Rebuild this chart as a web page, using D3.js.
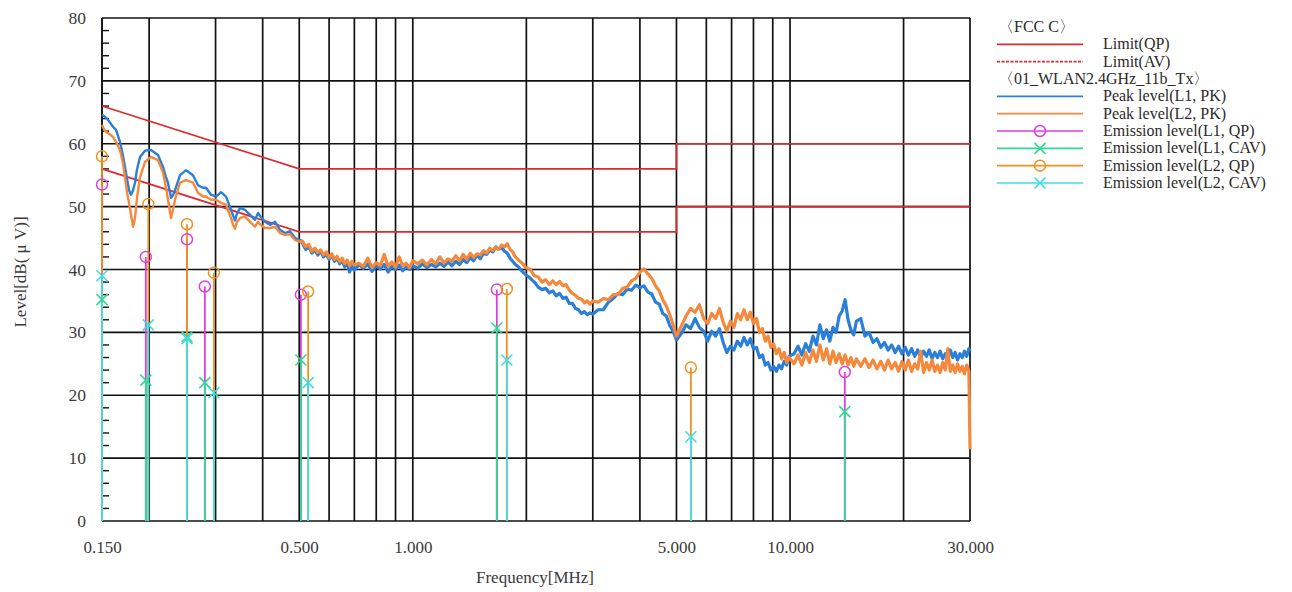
<!DOCTYPE html>
<html><head><meta charset="utf-8">
<script src="https://cdn.jsdelivr.net/npm/d3@7"></script>
<style>body{margin:0;background:#fff}</style>
</head><body>
<svg id="c" width="1292" height="592"></svg>
<script>
// ---------- data ----------
const yTickValues = [0,10,20,30,40,50,60,70,80];
const yMinorTicks = [2,4,6,8,12,14,16,18,22,24,26,28,32,34,36,38,42,44,46,48,52,54,56,58,62,64,66,68,72,74,76,78];
const xTickValues = [0.15,0.5,1,5,10,30];
const xTickLabels = ["0.150","0.500","1.000","5.000","10.000","30.000"];
const xGridValues = [0.2,0.3,0.4,0.5,0.6,0.7,0.8,0.9,1,2,3,4,5,6,7,8,9,10,20,30];

const limitFreq = [0.15,0.5,5,5,30];
const limitQP   = [66,56,56,60,60];
const limitAV   = [56,46,46,50,50];

const peakFreq = [
0.150,0.1528,0.1556,0.1604,0.1634,0.1674,0.1705,0.1726,0.1748,0.1769,0.1791,0.1813,0.1835,0.1857,0.1892,0.1950,0.2023,0.2111,0.2177,0.2217,0.2244,0.2271,0.2286,0.2313,0.2342,0.2415,0.2505,0.2614,0.2695,0.2779,0.2830,0.2918,0.3009,0.3102,0.3198,0.3297,0.3338,0.3379,0.3420,0.3484,0.3591,0.3702,0.3817,0.3888,0.3936,0.4058,0.4183,0.4313,0.4446,0.4584,0.4726,0.4872,0.5023,
0.51,0.52,0.53,0.54,0.55,0.56,0.57,0.58,0.59,0.60,0.61,0.62,0.63,0.64,0.65,0.66,0.67,0.68,0.69,0.70,
0.72,0.74,0.76,0.78,0.80,0.82,0.84,0.86,0.88,0.90,0.92,0.94,0.96,0.98,1.00,
1.03,1.06,1.09,1.12,1.15,1.18,1.21,1.24,1.27,1.30,1.33,1.36,1.39,1.42,1.45,1.48,1.51,1.54,1.57,1.60,1.63,1.66,1.69,1.72,1.75,1.78,1.81,1.84,1.87,1.90,1.93,1.96,1.99,
2.05,2.10,2.15,2.20,2.25,2.30,2.35,2.40,2.45,2.50,2.55,2.60,2.65,2.70,2.75,2.80,2.85,2.90,2.95,3.00,
3.1,3.2,3.3,3.4,3.5,3.6,3.7,3.8,3.9,4.0,4.1,4.2,4.3,4.4,4.5,4.6,4.7,4.8,4.9,5.0,
5.15,5.30,5.45,5.60,5.75,5.90,6.05,6.20,6.35,6.50,6.65,6.80,6.95,7.10,7.25,7.40,7.55,7.70,7.85,8.00,8.15,8.30,8.45,8.60,8.75,8.90,9.05,9.20,9.35,9.50,9.65,9.80,9.95,
10.25,10.50,10.75,11.00,11.25,11.50,11.75,12.00,12.25,12.50,12.75,13.00,13.25,13.50,13.75,14.00,14.25,14.50,14.75,15.00,
15.4,15.8,16.2,16.6,17.0,17.4,17.8,18.2,18.6,19.0,19.4,19.8,20.2,20.6,21.0,21.4,21.8,22.2,22.6,23.0,23.4,23.8,24.2,24.6,25.0,25.4,25.8,26.2,26.6,27.0,27.4,27.8,28.2,28.6,29.0,29.4,29.8,30.0
];
const peakL1 = [
64.6,64.3,63.8,62.7,62.2,60.3,58.1,56.3,54.4,52.6,51.9,52.6,53.8,55.9,57.9,58.9,59.0,58.2,56.3,54.7,53.8,52.3,51.4,51.8,52.6,55.0,55.8,55.0,53.4,53.0,53.0,51.9,51.6,52.3,51.6,49.5,48.6,47.8,48.9,49.8,49.5,48.7,47.9,49.0,48.5,47.6,47.1,47.6,46.3,45.8,46.1,45.0,44.7,
44.2,43.2,43.6,42.6,43.1,42.3,42.9,42.0,42.4,41.6,42.2,41.3,41.8,40.9,41.4,40.4,41.2,39.6,40.6,39.9,
40.8,40.2,40.9,39.7,40.6,40.1,40.8,39.6,40.5,40.0,40.7,39.8,40.4,40.0,40.6,
40.2,40.9,40.3,40.8,40.4,41.0,40.5,41.2,40.6,41.3,40.8,41.6,41.1,41.9,41.4,42.3,41.7,42.6,42.4,43.1,42.8,43.6,43.2,43.5,42.9,42.6,41.8,41.3,40.8,40.5,40.0,39.6,39.2,
38.6,38.0,37.2,36.8,37.0,36.3,36.6,35.8,36.2,35.4,35.6,34.6,34.6,33.8,33.6,33.0,33.3,32.8,33.1,32.9,
33.6,33.6,34.8,35.4,36.2,36.0,36.9,36.7,37.5,37.1,37.4,36.4,36.1,34.8,34.5,33.0,32.6,31.1,30.2,28.8,
29.8,31.2,30.6,32.2,30.8,30.2,28.6,30.2,29.4,30.6,28.4,26.8,27.8,27.2,28.6,27.8,29.2,28.0,29.0,27.4,27.6,26.0,26.4,24.8,25.2,24.0,24.6,23.8,24.8,24.2,25.4,24.8,26.2,
26.6,27.8,26.4,28.2,27.0,29.4,28.0,31.2,29.0,30.4,28.6,30.8,30.0,32.6,33.4,35.2,32.0,30.4,29.6,31.8,
32.2,29.4,30.0,28.4,29.0,27.6,28.4,27.2,28.0,26.8,27.8,26.6,27.6,26.4,27.4,26.2,27.2,26.0,27.0,26.2,27.2,25.8,26.8,26.0,27.0,25.8,26.6,26.0,27.2,26.0,26.8,25.6,26.6,26.0,27.0,26.2,27.4,27.0
];
const peakL2 = [
63.0,62.0,61.7,61.1,60.3,59.0,56.9,54.7,52.3,50.6,48.7,46.8,48.2,51.4,54.7,57.1,57.9,57.4,55.4,53.1,51.1,49.2,48.2,49.5,51.1,53.8,54.2,53.8,52.2,51.6,51.6,51.1,51.1,50.6,50.3,48.2,47.1,46.5,47.6,48.2,48.4,47.6,46.8,47.6,47.2,46.6,46.6,46.8,45.8,45.5,45.6,44.7,44.4,
44.5,43.6,44.0,42.9,43.4,42.7,43.1,42.3,42.8,41.9,42.5,41.6,42.1,41.2,41.8,40.9,41.5,40.6,41.3,40.7,
41.0,40.5,41.8,40.3,41.1,40.6,42.4,40.5,41.2,40.4,42.0,40.6,41.0,40.3,41.4,
40.9,41.5,40.7,41.6,40.9,42.0,41.0,41.7,41.3,42.2,41.4,42.4,41.6,42.6,41.9,42.5,42.3,43.0,42.6,43.4,43.0,43.5,43.2,43.9,43.6,44.1,43.2,42.8,42.0,41.6,41.2,40.9,40.3,
40.0,39.0,38.8,38.0,38.4,37.6,38.2,37.6,38.1,37.4,37.6,36.7,36.2,35.9,35.4,35.3,34.7,35.0,34.5,35.0,
34.8,35.4,35.2,36.0,36.0,37.0,37.2,38.2,38.6,39.6,40.1,39.3,38.6,37.4,36.6,35.2,34.2,32.8,31.2,29.4,
31.0,32.6,33.8,33.2,34.4,32.2,31.4,33.0,32.2,33.8,31.6,30.2,31.8,30.8,33.0,32.0,33.6,32.0,33.2,31.4,32.2,30.0,30.6,28.6,29.4,27.6,28.2,26.6,27.4,25.8,26.8,25.2,26.0,
25.0,26.4,24.8,26.8,25.2,27.2,25.4,28.0,25.6,27.4,25.0,27.0,25.2,26.6,25.0,26.4,24.8,26.0,24.6,25.8,
24.6,25.8,24.4,25.6,24.2,25.4,24.0,25.6,24.2,25.2,23.8,25.4,24.0,25.6,23.8,25.0,24.2,27.0,23.6,25.2,24.0,25.6,23.8,24.8,23.6,25.2,24.0,27.4,23.8,24.8,23.6,25.0,23.8,24.6,23.4,24.8,23.8,11.4
];

// emission (final measurement) points
const emL1Freq = [0.150,0.196,0.252,0.281,0.505,1.67,13.97];
const emL1QP   = [53.5,42.0,44.8,37.3,36.0,36.8,23.7];
const emL1CAV  = [35.2,22.4,29.3,22.0,25.6,30.7,17.4];
const emL2Freq = [0.150,0.199,0.252,0.297,0.528,1.775,5.46];
const emL2QP   = [58.0,50.4,47.2,39.5,36.5,36.9,24.4];
const emL2CAV  = [39.0,31.2,29.0,20.4,22.0,25.6,13.4];

const legendItems = [
  {type:"head", text:"〈FCC C〉"},
  {type:"line", text:"Limit(QP)", color:"#dd2b2b"},
  {type:"dash", text:"Limit(AV)", color:"#dd2b2b"},
  {type:"head", text:"〈01_WLAN2.4GHz_11b_Tx〉"},
  {type:"line", text:"Peak level(L1, PK)", color:"#2a7fd8"},
  {type:"line", text:"Peak level(L2, PK)", color:"#f5883a"},
  {type:"circle", text:"Emission level(L1, QP)", color:"#dd3fdd"},
  {type:"cross", text:"Emission level(L1, CAV)", color:"#30d890"},
  {type:"circle", text:"Emission level(L2, QP)", color:"#f0921e"},
  {type:"cross", text:"Emission level(L2, CAV)", color:"#3edde6"}
];

// ---------- drawing ----------
const svg = d3.select("#c");
const L=102, R=970, T=18, B=521;
const x = d3.scaleLog().domain([0.15,30]).range([L,R]);
const y = d3.scaleLinear().domain([0,80]).range([B,T]);
const FONT = "'Liberation Serif','DejaVu Serif',serif";

const g = svg.append("g");
g.selectAll(".hg").data(yTickValues).join("line")
  .attr("x1",L).attr("x2",R).attr("y1",d=>y(d)).attr("y2",d=>y(d))
  .attr("stroke","#111").attr("stroke-width",1.7);
g.selectAll(".vg").data(xGridValues).join("line")
  .attr("x1",d=>x(d)).attr("x2",d=>x(d)).attr("y1",T).attr("y2",B)
  .attr("stroke","#111").attr("stroke-width",1.7);
g.append("line").attr("x1",L).attr("x2",L).attr("y1",T).attr("y2",B).attr("stroke","#111").attr("stroke-width",1.9);
g.selectAll(".mt").data(yMinorTicks).join("line")
  .attr("x1",L).attr("x2",L+7).attr("y1",d=>y(d)).attr("y2",d=>y(d))
  .attr("stroke","#111").attr("stroke-width",1.4);

const yAxis = d3.axisLeft(y).tickValues(yTickValues).tickSize(0).tickPadding(16).tickFormat(d3.format("d"));
const ya = svg.append("g").attr("transform",`translate(${L},0)`).call(yAxis);
ya.select(".domain").remove();
ya.selectAll("text").attr("font-family",FONT).attr("font-size",17.5).attr("fill","#3a3a3a");

const xAxis = d3.axisBottom(x).tickValues(xTickValues).tickSize(0).tickPadding(20)
  .tickFormat((d,i)=>xTickLabels[i]);
const xa = svg.append("g").attr("transform",`translate(0,${B})`).call(xAxis);
xa.select(".domain").remove();
xa.selectAll("text").attr("font-family",FONT).attr("font-size",17).attr("fill","#3a3a3a");

svg.append("text").attr("x",535).attr("y",583).attr("text-anchor","middle")
  .attr("font-family",FONT).attr("font-size",17).attr("fill","#3a3a3a").text("Frequency[MHz]");
svg.append("text").attr("transform","translate(26,272) rotate(-90)").attr("text-anchor","middle")
  .attr("font-family",FONT).attr("font-size",17).attr("fill","#3a3a3a").text("Level[dB( μ V)]");

const limLine = d3.line().x(d=>x(d[0])).y(d=>y(d[1]));
svg.append("path").attr("d",limLine(d3.zip(limitFreq,limitQP))).attr("fill","none")
  .attr("stroke","#dd2b2b").attr("stroke-width",1.7);
svg.append("path").attr("d",limLine(d3.zip(limitFreq,limitAV))).attr("fill","none")
  .attr("stroke","#dd2b2b").attr("stroke-width",1.7);

// peak traces: smooth low-frequency part drawn thinner, noisy part thicker
const tr = d3.line().x(d=>x(d[0])).y(d=>y(d[1]));
function trace(vals, color){
  const pts = d3.zip(peakFreq, vals);
  const lo = pts.filter(d=>d[0]<=0.52), hi = pts.filter(d=>d[0]>=0.5);
  svg.append("path").attr("d",tr(lo)).attr("fill","none").attr("stroke",color)
    .attr("stroke-width",2.4).attr("stroke-linejoin","round");
  svg.append("path").attr("d",tr(hi)).attr("fill","none").attr("stroke",color)
    .attr("stroke-width",3.2).attr("stroke-linejoin","round");
}
trace(peakL1, "#2a7fd8");
trace(peakL2, "#f5883a");

function stems(freqs, vals, color){
  svg.append("g").selectAll("line").data(d3.zip(freqs,vals)).join("line")
    .attr("x1",d=>x(d[0])).attr("x2",d=>x(d[0])).attr("y1",d=>y(d[1])).attr("y2",y(0))
    .attr("stroke",color).attr("stroke-width",1.8);
}
function circles(freqs, vals, color){
  svg.append("g").selectAll("circle").data(d3.zip(freqs,vals)).join("circle")
    .attr("cx",d=>x(d[0])).attr("cy",d=>y(d[1])).attr("r",5.5)
    .attr("fill","none").attr("stroke",color).attr("stroke-width",1.5);
}
function crosses(freqs, vals, color){
  const gg = svg.append("g");
  d3.zip(freqs,vals).forEach(d=>{
    const cx=x(d[0]), cy=y(d[1]), s=5.5;
    gg.append("path").attr("d",`M${cx-s},${cy-s}L${cx+s},${cy+s}M${cx-s},${cy+s}L${cx+s},${cy-s}`)
      .attr("stroke",color).attr("stroke-width",1.6).attr("fill","none");
  });
}
stems(emL1Freq, emL1QP, "#dd3fdd");
stems(emL1Freq, emL1CAV, "#30d890");
stems(emL2Freq, emL2QP, "#f0921e");
stems(emL2Freq, emL2CAV, "#3edde6");
circles(emL1Freq, emL1QP, "#dd3fdd");
crosses(emL1Freq, emL1CAV, "#30d890");
circles(emL2Freq, emL2QP, "#f0921e");
crosses(emL2Freq, emL2CAV, "#3edde6");

const lg = svg.append("g");
const ly = d3.scaleLinear().domain([0,9]).range([27,183]);
legendItems.forEach((it,i)=>{
  const yy = ly(i);
  if(it.type==="head"){
    lg.append("text").attr("x",998).attr("y",yy+5).attr("font-family",FONT).attr("font-size",16)
      .attr("fill","#2a2a2a").text(it.text);
    return;
  }
  const ln = lg.append("line").attr("x1",997).attr("x2",1083).attr("y1",yy).attr("y2",yy)
    .attr("stroke",it.color).attr("stroke-width",1.6);
  if(it.type==="dash") ln.attr("stroke-dasharray","3,1.5");
  if(it.type==="circle") lg.append("circle").attr("cx",1040).attr("cy",yy).attr("r",5.5)
      .attr("fill","none").attr("stroke",it.color).attr("stroke-width",1.5);
  if(it.type==="cross"){ const s=5.5;
    lg.append("path").attr("d",`M${1040-s},${yy-s}L${1040+s},${yy+s}M${1040-s},${yy+s}L${1040+s},${yy-s}`)
      .attr("stroke",it.color).attr("stroke-width",1.6); }
  lg.append("text").attr("x",1103).attr("y",yy+5).attr("font-family",FONT).attr("font-size",16)
    .attr("fill","#2a2a2a").text(it.text);
});
</script>
</body></html>
